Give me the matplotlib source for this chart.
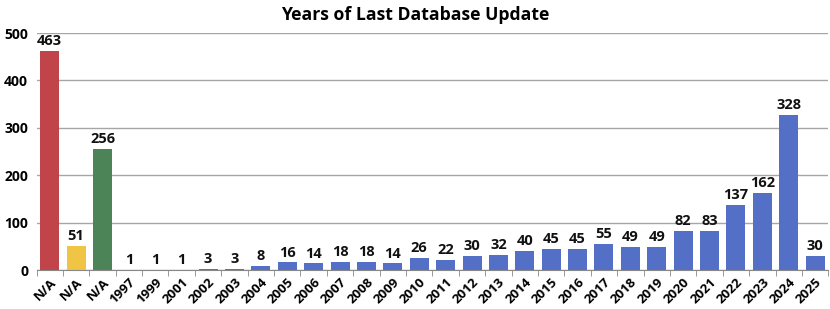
import numpy as np
import matplotlib.pyplot as plt

plt.rcParams['font.family'] = ['Open Sans', 'DejaVu Sans']

labels = ['N/A', 'N/A', 'N/A', '1997', '1999', '2001', '2002', '2003', '2004', '2005',
          '2006', '2007', '2008', '2009', '2010', '2011', '2012', '2013', '2014', '2015',
          '2016', '2017', '2018', '2019', '2020', '2021', '2022', '2023', '2024', '2025']
values = [463, 51, 256, 1, 1, 1, 3, 3, 8, 16,
          14, 18, 18, 14, 26, 22, 30, 32, 40, 45,
          45, 55, 49, 49, 82, 83, 137, 162, 328, 30]
colors = ['#c0444a', '#f0c444', '#4d8457'] + ['#5470c6'] * (len(values) - 3)

fig = plt.figure(figsize=(8.3, 3.09), dpi=100)
ax = fig.add_axes([0.044, 0.126, 0.954, 0.767])

x = np.arange(len(values))
bars = ax.bar(x, values, width=0.72, color=colors, zorder=3)
for xi, v in zip(x, values):
    ax.text(xi, v + 6, str(v), ha='center', va='bottom', fontsize=10.5,
            fontweight='bold', color='#111111', zorder=4)

ax.set_xlim(-0.5, len(values) - 0.5)
ax.set_ylim(0, 500)
ax.set_yticks([0, 100, 200, 300, 400, 500])
ax.yaxis.grid(True, color='#a6a6a6', linewidth=1, zorder=0)
ax.set_xticks(x)
ax.set_xticklabels(labels, rotation=45, ha='right', rotation_mode='anchor',
                   fontsize=9.5, fontweight='bold')
ax.set_xticks(np.arange(-0.5, len(values)), minor=True)
ax.tick_params(axis='x', which='major', length=0, pad=4)
ax.tick_params(axis='x', which='minor', length=4, color='#888888')
ax.tick_params(axis='y', length=0, labelsize=10, pad=6)
for lab in ax.get_yticklabels():
    lab.set_fontweight('bold')
for s in ['top', 'right', 'left']:
    ax.spines[s].set_visible(False)
ax.spines['bottom'].set_color('#888888')
ax.spines['bottom'].set_zorder(5)

fig.suptitle('Years of Last Database Update', x=0.5, y=0.98, fontsize=12.7,
             fontweight='bold')

fig.savefig('out.png', dpi=100)
